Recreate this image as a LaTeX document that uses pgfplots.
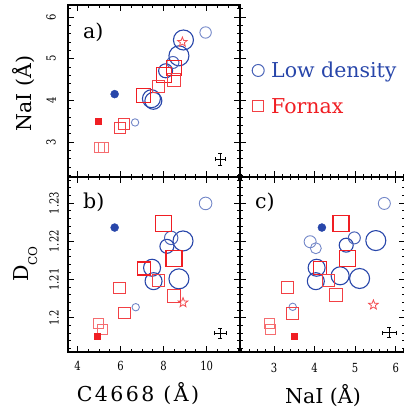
\documentclass[border=0pt]{standalone}
\usepackage{fontspec}
\setmainfont{DejaVu Serif}
\newfontfamily\tickfont[FakeStretch=0.8]{DejaVu Serif}
\newfontfamily\labfont[LetterSpace=12]{DejaVu Serif}
\usepackage{pgfplots}
\pgfplotsset{compat=1.18}
\definecolor{myblue}{RGB}{40,70,170}
\definecolor{myred}{RGB}{240,30,35}

\pgfdeclareplotmark{ostar}{%
 \pgfpathmoveto{\pgfpointpolar{90}{\pgfplotmarksize}}%
 \pgfpathlineto{\pgfpointpolar{126}{0.42\pgfplotmarksize}}%
 \pgfpathlineto{\pgfpointpolar{162}{\pgfplotmarksize}}%
 \pgfpathlineto{\pgfpointpolar{198}{0.42\pgfplotmarksize}}%
 \pgfpathlineto{\pgfpointpolar{234}{\pgfplotmarksize}}%
 \pgfpathlineto{\pgfpointpolar{270}{0.42\pgfplotmarksize}}%
 \pgfpathlineto{\pgfpointpolar{306}{\pgfplotmarksize}}%
 \pgfpathlineto{\pgfpointpolar{342}{0.42\pgfplotmarksize}}%
 \pgfpathlineto{\pgfpointpolar{18}{\pgfplotmarksize}}%
 \pgfpathlineto{\pgfpointpolar{54}{0.42\pgfplotmarksize}}%
 \pgfpathclose\pgfusepathqstroke}

\pgfplotsset{
  boxax/.style={scale only axis, anchor=north west,
    axis line style={line width=1.3pt},
    tick align=inside, major tick length=0pt, minor tick length=0pt,
    tick label style={font=\tickfont\fontsize{12.5}{14}\selectfont},
    /pgf/number format/assume math mode=true},
  C/.style={only marks, mark=o, mark size=#1, draw=myblue, line width=1.1pt},
  CM/.style={only marks, mark=o, mark size=#1, draw=myblue!85, line width=1.0pt},
  CL/.style={only marks, mark=o, mark size=#1, draw=myblue!65, line width=0.9pt},
  S/.style={only marks, mark=square, mark size=#1, draw=myred, line width=1.1pt},
  SM/.style={only marks, mark=square, mark size=#1, draw=myred!85, line width=1.0pt},
  SL/.style={only marks, mark=square, mark size=#1, draw=myred!65, line width=0.9pt},
  FC/.style={only marks, mark=*, mark size=4pt, myblue},
  FS/.style={only marks, mark=square*, mark size=3pt, myred},
  ST/.style={only marks, mark=ostar, mark size=5pt, draw=myred!80, line width=0.8pt},
  tkbase/.style={forget plot, draw=none, mark=none},
  tku/.style={tkbase, error bars/.cd, y dir=both, y fixed=#1, error mark=none, error bar style={draw=black, line width=0.9pt}},
  tkd/.style={tkbase, error bars/.cd, y dir=both, y fixed=#1, error mark=none, error bar style={draw=black, line width=0.9pt}},
  tkr/.style={tkbase, error bars/.cd, x dir=both, x fixed=#1, error mark=none, error bar style={draw=black, line width=0.9pt}},
  tkl/.style={tkbase, error bars/.cd, x dir=minus, x fixed=#1, error mark=none, error bar style={draw=black, line width=0.9pt}},
  xtl/.style={xticklabel style={anchor=base, inner sep=0pt, yshift=#1}},
  ytl/.style={yticklabel style={rotate=90, anchor=south, inner xsep=0pt, inner ysep=#1}},
  errc/.style={black, mark=none, forget plot, error bars/.cd, x dir=both, x explicit, y dir=both, y explicit,
    error bar style={line width=0.9pt}, error mark options={rotate=90, mark size=2pt, line width=0.9pt}},
}

\begin{document}
\begin{tikzpicture}
\path[use as bounding box] (0pt,0pt) rectangle (404pt,-410pt);

% ---------------- panel a: NaI vs C4668
\begin{axis}[boxax, at={(68pt,-5pt)}, width=172pt, height=172pt,
  xmin=3.55, xmax=11.55, ymin=2.16, ymax=6.29,
  xtick={4,6,8,10}, xticklabels={},
  ytick={3,4,5,6}, yticklabels={3,4,5,6}, ytl=12pt]
% tick marks (bottom, top, left, right)
\addplot[tku=0.144] coordinates {(4,2.16) (6,2.16) (8,2.16) (10,2.16)};
\addplot[tku=0.072] coordinates {(4.5,2.16) (5,2.16) (5.5,2.16) (6.5,2.16) (7,2.16) (7.5,2.16) (8.5,2.16) (9,2.16) (9.5,2.16) (10.5,2.16) (11,2.16) (11.5,2.16)};
\addplot[tkd=0.144] coordinates {(4,6.29) (6,6.29) (8,6.29) (10,6.29)};
\addplot[tkd=0.072] coordinates {(4.5,6.29) (5,6.29) (5.5,6.29) (6.5,6.29) (7,6.29) (7.5,6.29) (8.5,6.29) (9,6.29) (9.5,6.29) (10.5,6.29) (11,6.29) (11.5,6.29)};
\addplot[tkr=0.28] coordinates {(3.55,3) (3.55,4) (3.55,5) (3.55,6)};
\addplot[tkr=0.14] coordinates {(3.55,2.2) (3.55,2.4) (3.55,2.6) (3.55,2.8) (3.55,3.2) (3.55,3.4) (3.55,3.6) (3.55,3.8) (3.55,4.2) (3.55,4.4) (3.55,4.6) (3.55,4.8) (3.55,5.2) (3.55,5.4) (3.55,5.6) (3.55,5.8) (3.55,6.2)};
\addplot[tkl=0.28] coordinates {(11.55,3) (11.55,4) (11.55,5) (11.55,6)};
\addplot[tkl=0.14] coordinates {(11.55,2.2) (11.55,2.4) (11.55,2.6) (11.55,2.8) (11.55,3.2) (11.55,3.4) (11.55,3.6) (11.55,3.8) (11.55,4.2) (11.55,4.4) (11.55,4.6) (11.55,4.8) (11.55,5.2) (11.55,5.4) (11.55,5.6) (11.55,5.8) (11.55,6.2)};
% data
\addplot[C=10] coordinates {(8.92,5.45)};
\addplot[C=10] coordinates {(8.71,5.07)};
\addplot[C=9] coordinates {(7.43,4.04)};
\addplot[C=8.5] coordinates {(7.52,3.99)};
\addplot[C=7] coordinates {(8.09,4.71)};
\addplot[CM=6] coordinates {(8.43,4.91)};
\addplot[CL=5.7] coordinates {(9.95,5.63)};
\addplot[CL=3.7] coordinates {(6.67,3.47)};
\addplot[S=7.5] coordinates {(8.48,4.77)};
\addplot[S=7.5] coordinates {(8.00,4.61)};
\addplot[S=7] coordinates {(7.07,4.11)};
\addplot[SM=6.3] coordinates {(8.48,4.49)};
\addplot[SM=5.8] coordinates {(7.75,4.33)};
\addplot[SM=5.5] coordinates {(5.96,3.34)};
\addplot[SM=5.5] coordinates {(6.16,3.44)};
\addplot[SL=5] coordinates {(4.99,2.87)};
\addplot[SL=5] coordinates {(5.18,2.87)};
\addplot[FC] coordinates {(5.72,4.15)};
\addplot[FS] coordinates {(4.94,3.50)};
\addplot[ST] coordinates {(8.87,5.40)};
\addplot[errc] coordinates {(10.64,2.59) +- (0.23,0.144)};
\end{axis}

% ---------------- top-right legend area
\begin{axis}[scale only axis, anchor=north west, at={(240pt,-5pt)}, width=165pt, height=172pt,
  xmin=2.16, xmax=6.23, ymin=2.16, ymax=6.29,
  axis x line*=bottom, axis y line*=left, axis line style={-, line width=1.3pt},
  major tick length=0pt, minor tick length=0pt,
  xtick={3,4,5,6}, ytick={3,4,5,6}, xticklabels={}, yticklabels={},
  legend style={at={(0.0727,0.667)}, anchor=north west, draw=none, fill=none,
    inner sep=0pt, row sep=15.7pt, column sep=7pt,
    nodes={inner sep=0pt, text height=15pt, text depth=5pt, anchor=base west,
      font=\fontsize{20.5}{24}\selectfont}},
  legend cell align=left,
  legend image code/.code={\draw[#1] plot coordinates {(0pt,7pt)};}]
\addlegendimage{only marks, mark=o, mark size=6pt, draw=myblue!85, line width=1pt}
\addlegendentry{\textcolor{myblue}{Low density}}
\addlegendimage{only marks, mark=square, mark size=5.8pt, draw=myred!85, line width=1pt}
\addlegendentry{\textcolor{myred}{Fornax}}
\addplot[tku=0.144] coordinates {(3,2.16) (4,2.16) (5,2.16) (6,2.16)};
\addplot[tku=0.072] coordinates {(2.2,2.16) (2.4,2.16) (2.6,2.16) (2.8,2.16) (3.2,2.16) (3.4,2.16) (3.6,2.16) (3.8,2.16) (4.2,2.16) (4.4,2.16) (4.6,2.16) (4.8,2.16) (5.2,2.16) (5.4,2.16) (5.6,2.16) (5.8,2.16) (6.2,2.16)};
\addplot[tkr=0.148] coordinates {(2.16,3) (2.16,4) (2.16,5) (2.16,6)};
\addplot[tkr=0.074] coordinates {(2.16,2.2) (2.16,2.4) (2.16,2.6) (2.16,2.8) (2.16,3.2) (2.16,3.4) (2.16,3.6) (2.16,3.8) (2.16,4.2) (2.16,4.4) (2.16,4.6) (2.16,4.8) (2.16,5.2) (2.16,5.4) (2.16,5.6) (2.16,5.8) (2.16,6.2)};
\end{axis}

% ---------------- panel b: DCO vs C4668
\begin{axis}[boxax, at={(68pt,-177pt)}, width=172pt, height=175pt,
  xmin=3.55, xmax=11.55, ymin=1.1911, ymax=1.2368,
  xtick={4,6,8,10}, xticklabels={4,6,8,10}, xtl=-18pt,
  ytick={1.2,1.21,1.22,1.23}, yticklabels={1.2,1.21,1.22,1.23}, ytl=9pt]
\addplot[tku=0.0016] coordinates {(4,1.1911) (6,1.1911) (8,1.1911) (10,1.1911)};
\addplot[tku=0.0008] coordinates {(4.5,1.1911) (5,1.1911) (5.5,1.1911) (6.5,1.1911) (7,1.1911) (7.5,1.1911) (8.5,1.1911) (9,1.1911) (9.5,1.1911) (10.5,1.1911) (11,1.1911) (11.5,1.1911)};
\addplot[tkd=0.0016] coordinates {(4,1.2368) (6,1.2368) (8,1.2368) (10,1.2368)};
\addplot[tkd=0.0008] coordinates {(4.5,1.2368) (5,1.2368) (5.5,1.2368) (6.5,1.2368) (7,1.2368) (7.5,1.2368) (8.5,1.2368) (9,1.2368) (9.5,1.2368) (10.5,1.2368) (11,1.2368) (11.5,1.2368)};
\addplot[tkr=0.28] coordinates {(3.55,1.2) (3.55,1.21) (3.55,1.22) (3.55,1.23)};
\addplot[tkr=0.14] coordinates {(3.55,1.192) (3.55,1.194) (3.55,1.196) (3.55,1.198) (3.55,1.202) (3.55,1.204) (3.55,1.206) (3.55,1.208) (3.55,1.212) (3.55,1.214) (3.55,1.216) (3.55,1.218) (3.55,1.222) (3.55,1.224) (3.55,1.226) (3.55,1.228) (3.55,1.232) (3.55,1.234) (3.55,1.236)};
\addplot[tkl=0.28] coordinates {(11.55,1.2) (11.55,1.21) (11.55,1.22) (11.55,1.23)};
\addplot[tkl=0.14] coordinates {(11.55,1.192) (11.55,1.194) (11.55,1.196) (11.55,1.198) (11.55,1.202) (11.55,1.204) (11.55,1.206) (11.55,1.208) (11.55,1.212) (11.55,1.214) (11.55,1.216) (11.55,1.218) (11.55,1.222) (11.55,1.224) (11.55,1.226) (11.55,1.228) (11.55,1.232) (11.55,1.234) (11.55,1.236)};
\addplot[C=10] coordinates {(8.90,1.2201)};
\addplot[C=10] coordinates {(8.71,1.2102)};
\addplot[C=8.5] coordinates {(7.46,1.2131)};
\addplot[C=8.5] coordinates {(7.53,1.2096)};
\addplot[C=7] coordinates {(8.15,1.2187)};
\addplot[CM=6.7] coordinates {(8.35,1.2209)};
\addplot[CL=6.3] coordinates {(9.95,1.2299)};
\addplot[CL=3.7] coordinates {(6.70,1.2028)};
\addplot[S=8] coordinates {(8.00,1.2247)};
\addplot[S=8] coordinates {(8.48,1.2156)};
\addplot[S=6.5] coordinates {(7.07,1.2129)};
\addplot[SM=6.5] coordinates {(8.48,1.2058)};
\addplot[SM=6] coordinates {(7.75,1.2097)};
\addplot[SM=5.8] coordinates {(5.95,1.2078)};
\addplot[SM=5.8] coordinates {(6.19,1.2013)};
\addplot[SL=5] coordinates {(4.98,1.1986)};
\addplot[SL=5] coordinates {(5.14,1.1969)};
\addplot[FC] coordinates {(5.72,1.2236)};
\addplot[FS] coordinates {(4.93,1.1952)};
\addplot[ST] coordinates {(8.90,1.2040)};
\addplot[errc] coordinates {(10.64,1.1960) +- (0.27,0.0013)};
\end{axis}

% ---------------- panel c: DCO vs NaI
\begin{axis}[boxax, at={(240pt,-177pt)}, width=165pt, height=175pt,
  xmin=2.16, xmax=6.23, ymin=1.1911, ymax=1.2368,
  xtick={3,4,5,6}, xticklabels={3,4,5,6}, xtl=-20pt,
  ytick={1.2,1.21,1.22,1.23}, yticklabels={}]
\addplot[tku=0.0016] coordinates {(3,1.1911) (4,1.1911) (5,1.1911) (6,1.1911)};
\addplot[tku=0.0008] coordinates {(2.2,1.1911) (2.4,1.1911) (2.6,1.1911) (2.8,1.1911) (3.2,1.1911) (3.4,1.1911) (3.6,1.1911) (3.8,1.1911) (4.2,1.1911) (4.4,1.1911) (4.6,1.1911) (4.8,1.1911) (5.2,1.1911) (5.4,1.1911) (5.6,1.1911) (5.8,1.1911) (6.2,1.1911)};
\addplot[tkd=0.0016] coordinates {(3,1.2368) (4,1.2368) (5,1.2368) (6,1.2368)};
\addplot[tkd=0.0008] coordinates {(2.2,1.2368) (2.4,1.2368) (2.6,1.2368) (2.8,1.2368) (3.2,1.2368) (3.4,1.2368) (3.6,1.2368) (3.8,1.2368) (4.2,1.2368) (4.4,1.2368) (4.6,1.2368) (4.8,1.2368) (5.2,1.2368) (5.4,1.2368) (5.6,1.2368) (5.8,1.2368) (6.2,1.2368)};
\addplot[tkr=0.148] coordinates {(2.16,1.2) (2.16,1.21) (2.16,1.22) (2.16,1.23)};
\addplot[tkr=0.074] coordinates {(2.16,1.192) (2.16,1.194) (2.16,1.196) (2.16,1.198) (2.16,1.202) (2.16,1.204) (2.16,1.206) (2.16,1.208) (2.16,1.212) (2.16,1.214) (2.16,1.216) (2.16,1.218) (2.16,1.222) (2.16,1.224) (2.16,1.226) (2.16,1.228) (2.16,1.232) (2.16,1.234) (2.16,1.236)};
\addplot[tkl=0.148] coordinates {(6.23,1.2) (6.23,1.21) (6.23,1.22) (6.23,1.23)};
\addplot[tkl=0.074] coordinates {(6.23,1.192) (6.23,1.194) (6.23,1.196) (6.23,1.198) (6.23,1.202) (6.23,1.204) (6.23,1.206) (6.23,1.208) (6.23,1.212) (6.23,1.214) (6.23,1.216) (6.23,1.218) (6.23,1.222) (6.23,1.224) (6.23,1.226) (6.23,1.228) (6.23,1.232) (6.23,1.234) (6.23,1.236)};
\addplot[C=10] coordinates {(5.51,1.2202)};
\addplot[C=10] coordinates {(5.11,1.2103)};
\addplot[C=9] coordinates {(4.63,1.2110)};
\addplot[C=8.5] coordinates {(4.05,1.2131)};
\addplot[C=8.5] coordinates {(4.03,1.2096)};
\addplot[C=7] coordinates {(4.78,1.2190)};
\addplot[CM=6] coordinates {(4.98,1.2209)};
\addplot[CL=6] coordinates {(5.72,1.2299)};
\addplot[CL=6] coordinates {(3.89,1.2199)};
\addplot[CL=5.5] coordinates {(4.03,1.2182)};
\addplot[CL=3.7] coordinates {(3.46,1.2029)};
\addplot[S=8] coordinates {(4.65,1.2247)};
\addplot[S=8] coordinates {(4.81,1.2156)};
\addplot[S=6.5] coordinates {(4.14,1.2131)};
\addplot[SM=6.5] coordinates {(4.53,1.2060)};
\addplot[SM=6] coordinates {(4.34,1.2099)};
\addplot[SM=5.8] coordinates {(3.33,1.2079)};
\addplot[SM=5.8] coordinates {(3.46,1.2012)};
\addplot[SL=5] coordinates {(2.88,1.1986)};
\addplot[SL=5] coordinates {(2.90,1.1970)};
\addplot[FC] coordinates {(4.18,1.2236)};
\addplot[FS] coordinates {(3.50,1.1953)};
\addplot[ST] coordinates {(5.45,1.2034)};
\addplot[errc] coordinates {(5.84,1.1961) +- (0.17,0.0013)};
\end{axis}

% ---------------- labels
\node[rotate=90, anchor=base] at (31pt,-93.7pt) {\fontsize{20.5}{24}\selectfont NaI (Å)};
\node[rotate=90, anchor=base] at (28pt,-264pt) {\fontsize{20.5}{24}\selectfont D\raisebox{-9pt}{\fontsize{12}{14}\selectfont CO}};
\node[anchor=base] at (138pt,-401.7pt) {\labfont\fontsize{20.5}{24}\selectfont C4668 (Å)};
\node[anchor=base] at (323pt,-403pt) {\fontsize{20.5}{24}\selectfont NaI (Å)};
\node[anchor=base west, inner sep=0pt] at (83pt,-38.5pt) {\fontsize{20.5}{24}\selectfont a)};
\node[anchor=base west, inner sep=0pt] at (83pt,-208.5pt) {\fontsize{20.5}{24}\selectfont b)};
\node[anchor=base west, inner sep=0pt] at (255pt,-208.5pt) {\fontsize{20.5}{24}\selectfont c)};
\end{tikzpicture}
\end{document}
